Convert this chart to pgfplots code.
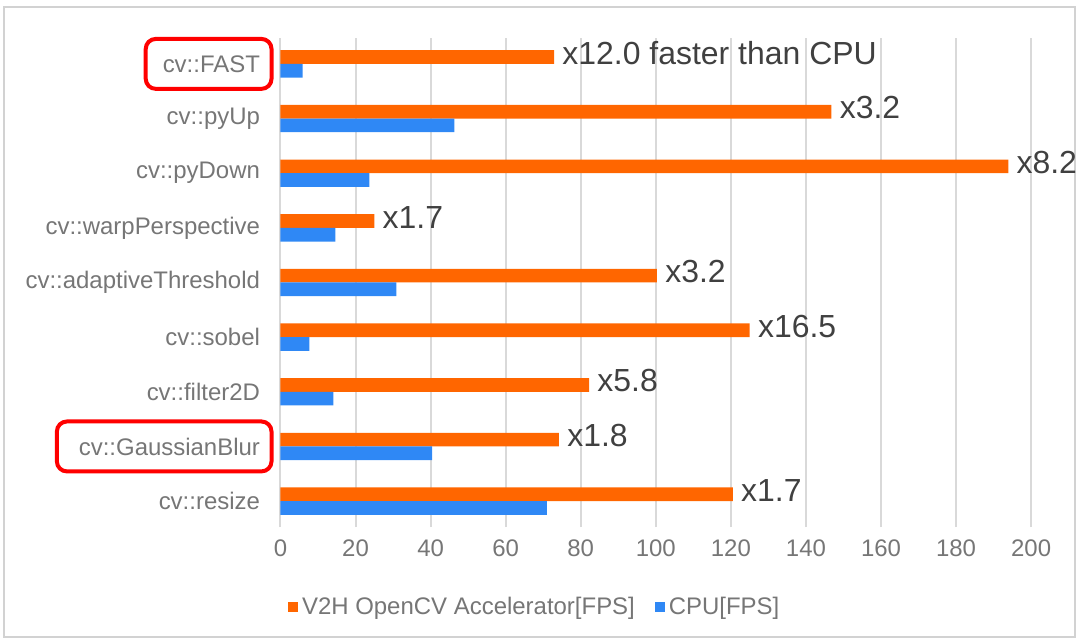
\documentclass[border=0pt]{standalone}
\usepackage{fontspec}
\setmainfont{Liberation Sans}
\usepackage{pgfplots}
\pgfplotsset{compat=1.18}

\definecolor{accel}{HTML}{FF6600}
\definecolor{cpu}{HTML}{2F88F5}
\definecolor{lbl}{HTML}{767676}
\definecolor{gridc}{HTML}{D9D9D9}
\definecolor{note}{HTML}{404040}

\begin{document}
\begin{tikzpicture}
\begin{axis}[
    xbar,
    scale only axis,
    width=376pt, height=245pt,
    xmin=0, xmax=200,
    ymin=0.525, ymax=9.475,
    xtick={0,20,...,200},
    ytick={1,...,9},
    yticklabels={cv::resize, cv::GaussianBlur, cv::filter2D, cv::sobel,
        cv::adaptiveThreshold, cv::warpPerspective, cv::pyDown, cv::pyUp, cv::FAST},
    axis line style={draw=none},
    tick style={draw=none},
    xmajorgrids,
    major grid style={gridc, line width=1pt},
    bar width=0.25,
    clip=false,
    /pgf/number format/assume math mode=true,
    tick label style={font=\fontsize{12}{14}\selectfont, text=lbl},
    yticklabel style={xshift=-2.5pt},
    xticklabel style={yshift=-3pt},
    legend style={at={(0.34,0)}, anchor=center, yshift=-40pt, draw=none,
        font=\fontsize{12}{14}\selectfont, text=lbl,
        /tikz/every even column/.append style={column sep=8pt}},
    legend columns=2,
    legend image code/.code={\fill[#1] (0pt,-2.5pt) rectangle (5pt,2.5pt);},
]
% V2H accelerator, labelled with speed-up
\addplot[fill=accel, draw=none, bar shift=0.125,
    point meta=explicit symbolic, nodes near coords,
    nodes near coords style={font=\fontsize{16}{19}\selectfont, text=note,
        anchor=west, inner sep=2pt, xshift=2pt, yshift=2pt}]
    coordinates {
    (120.5,1) [x1.7]
    (74.2,2) [x1.8]
    (82.2,3) [x5.8]
    (125.0,4) [x16.5]
    (100.3,5) [x3.2]
    (25.0,6) [x1.7]
    (193.9,7) [x8.2]
    (146.8,8) [x3.2]
    (72.9,9) [x12.0 faster than CPU]
};
\addplot[fill=cpu, draw=none, bar shift=-0.125]
    coordinates {
    (71.0,1) (40.4,2) (14.1,3) (7.7,4) (30.9,5) (14.6,6) (23.7,7) (46.3,8) (5.9,9)
};
\legend{V2H OpenCV Accelerator[FPS], CPU[FPS]}

% highlight boxes round two labels
\draw[red, line width=2pt, rounded corners=5pt]
    ([xshift=-67.5pt,yshift=12.5pt]axis cs:0,9) rectangle ([xshift=-4.5pt,yshift=-12.5pt]axis cs:0,9);
\draw[red, line width=2pt, rounded corners=5pt]
    ([xshift=-112pt,yshift=12.5pt]axis cs:0,2) rectangle ([xshift=-4.5pt,yshift=-12.5pt]axis cs:0,2);

% outer frame and page size
\draw[gray!35, line width=1pt]
    ([xshift=-138.5pt,yshift=15.5pt]rel axis cs:0,1) rectangle ([xshift=22pt,yshift=-55pt]rel axis cs:1,0);
\useasboundingbox
    ([xshift=-140.5pt,yshift=19pt]rel axis cs:0,1) rectangle ([xshift=24pt,yshift=-57pt]rel axis cs:1,0);
\end{axis}
\end{tikzpicture}
\end{document}
